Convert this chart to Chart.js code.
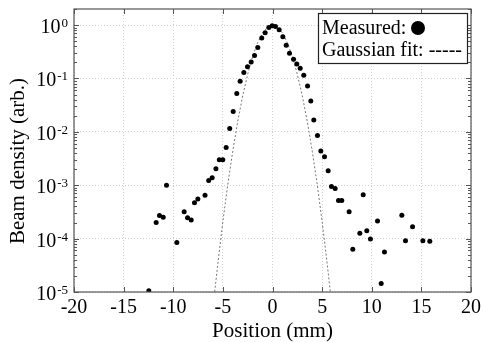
<!DOCTYPE html>
<html>
<head>
<meta charset="utf-8">
<script src="https://cdn.jsdelivr.net/npm/chart.js@4/dist/chart.umd.min.js"></script>
<style>
  html, body { margin: 0; padding: 0; background: #fff; }
  #wrap { width: 483px; height: 342px; }
</style>
</head>
<body>
<div id="wrap"><canvas id="beam" width="483" height="342"></canvas></div>
<script>
// measured beam profile (position in mm, density arb.)
const measuredX = [
  -12.46, -11.72, -11.39, -11.01, -10.68, -9.64, -8.90, -8.56, -8.19, -7.86,
  -7.52, -6.80, -6.43, -6.08, -5.70, -5.36, -5.01, -4.67, -4.31, -3.96,
  -3.60, -3.26, -2.89, -2.52, -2.15, -1.81, -1.48, -1.08, -0.74, -0.37,
  -0.03, 0.30, 0.67, 1.04, 1.38, 1.71, 2.12, 2.45, 2.79, 3.15,
  3.53, 3.86, 4.16, 4.53, 4.87, 5.24, 5.61, 5.94, 6.31, 6.65,
  6.98, 7.72, 8.09, 8.80, 9.14, 9.50, 9.87, 10.58, 10.95, 11.28,
  13.03, 13.40, 14.11, 15.15, 15.85
];
const measuredY = [
  1.06e-5, 2.0e-4, 2.7e-4, 2.5e-4, 1.0e-3, 8.5e-5, 3.2e-4, 2.45e-4, 2.24e-4, 4.7e-4,
  5.5e-4, 6.5e-4, 1.23e-3, 1.38e-3, 2.04e-3, 3.0e-3, 3.0e-3, 5.1e-3, 1.15e-2, 2.4e-2,
  5.2e-2, 8.9e-2, 0.129, 0.166, 0.204, 0.269, 0.38, 0.575, 0.716, 0.904,
  0.973, 0.944, 0.813, 0.603, 0.421, 0.295, 0.229, 0.186, 0.155, 0.115,
  0.0724, 0.038, 0.0166, 8.5e-3, 4.4e-3, 3.4e-3, 1.86e-3, 9.5e-4, 8.7e-4, 5.2e-4,
  5.2e-4, 3.2e-4, 6.3e-5, 1.26e-4, 6.6e-4, 1.41e-4, 9.8e-5, 2.14e-4, 1.45e-5, 5.6e-5,
  2.75e-4, 9.1e-5, 1.66e-4, 9.1e-5, 8.9e-5
];

// gaussian fit curve
const fitX = [-6, -5.5, -5, -4.5, -4, -3.5, -3, -2.5, -2, -1.5, -1, -0.5, 0,
              0.5, 1, 1.5, 2, 2.5, 3, 3.5, 4, 4.5, 5, 5.5, 6];
const fitY = [5.1e-6, 3.5e-5, 2.1e-4, 1.05e-3, 4.4e-3, 1.58e-2, 4.74e-2, 0.120, 0.258, 0.467, 0.713, 0.919, 1,
              0.919, 0.713, 0.467, 0.258, 0.120, 4.74e-2, 1.58e-2, 4.4e-3, 1.05e-3, 2.1e-4, 3.5e-5, 5.1e-6];

const xTicks = [-20, -15, -10, -5, 0, 5, 10, 15, 20];
const yDecades = [-5, -4, -3, -2, -1, 0];

const SERIF = '"Liberation Serif", "Times New Roman", serif';

const decor = {
  id: "decor",
  afterDraw(chart) {
    const { ctx, chartArea: a, scales: { x, y } } = chart;
    ctx.save();

    // plot frame
    ctx.strokeStyle = "#555";
    ctx.lineWidth = 1.2;
    ctx.strokeRect(a.left, a.top, a.right - a.left, a.bottom - a.top);

    // inward tick marks
    ctx.lineWidth = 1;
    ctx.beginPath();
    xTicks.forEach(v => {
      const px = Math.round(x.getPixelForValue(v)) + 0.5;
      ctx.moveTo(px, a.bottom); ctx.lineTo(px, a.bottom - 5);
      ctx.moveTo(px, a.top); ctx.lineTo(px, a.top + 5);
    });
    yDecades.forEach(d => {
      for (let m = 1; m <= 9; m++) {
        const v = m * Math.pow(10, d);
        if (v > y.max) break;
        const py = Math.round(y.getPixelForValue(v)) + 0.5;
        const len = m === 1 ? 5 : 3;
        ctx.moveTo(a.left, py); ctx.lineTo(a.left + len, py);
        ctx.moveTo(a.right, py); ctx.lineTo(a.right - len, py);
      }
    });
    ctx.stroke();

    // x tick labels
    ctx.fillStyle = "#000";
    ctx.font = "20px " + SERIF;
    ctx.textAlign = "center";
    ctx.textBaseline = "alphabetic";
    xTicks.forEach(v => {
      ctx.fillText(String(v), x.getPixelForValue(v), a.bottom + 21);
    });

    // y tick labels 10^n
    ctx.textAlign = "left";
    yDecades.forEach(d => {
      const py = y.getPixelForValue(Math.pow(10, d));
      const exp = String(d);
      ctx.font = "20px " + SERIF;
      const wBase = ctx.measureText("10").width;
      ctx.font = "13px " + SERIF;
      const wExp = ctx.measureText(exp).width;
      const right = a.left - 6;
      const x0 = right - wBase - wExp - 1;
      ctx.font = "20px " + SERIF;
      ctx.fillText("10", x0, py + 8);
      ctx.font = "13px " + SERIF;
      ctx.fillText(exp, x0 + wBase + 1, py + 2);
    });

    // axis titles
    ctx.font = "21px " + SERIF;
    ctx.textAlign = "center";
    ctx.fillText("Position (mm)", (a.left + a.right) / 2, 337);
    ctx.save();
    ctx.translate(24, 161);
    ctx.rotate(-Math.PI / 2);
    ctx.fillText("Beam density (arb.)", 0, 0);
    ctx.restore();

    // legend box
    const lx = 318, ly = 13, lw = 149, lh = 50;
    ctx.fillStyle = "#fff";
    ctx.fillRect(lx, ly, lw, lh);
    ctx.strokeStyle = "#222";
    ctx.lineWidth = 1.2;
    ctx.strokeRect(lx + 0.5, ly + 0.5, lw, lh);
    ctx.fillStyle = "#000";
    ctx.font = "20px " + SERIF;
    ctx.textAlign = "left";
    ctx.fillText("Measured:", 322, 34);
    ctx.beginPath();
    ctx.arc(418, 28, 7, 0, Math.PI * 2);
    ctx.fill();
    ctx.fillText("Gaussian fit: -----", 322, 56);

    ctx.restore();
  }
};

new Chart(document.getElementById("beam"), {
  type: "scatter",
  data: {
    datasets: [
      {
        label: "Gaussian fit",
        data: fitX.map((v, i) => ({ x: v, y: fitY[i] })),
        showLine: true,
        borderColor: "#777",
        borderWidth: 1,
        borderDash: [2, 2],
        pointRadius: 0,
        fill: false,
        order: 2
      },
      {
        label: "Measured",
        data: measuredX.map((v, i) => ({ x: v, y: measuredY[i] })),
        backgroundColor: "#000",
        borderColor: "#000",
        pointRadius: 2.5,
        pointBorderWidth: 0,
        order: 1
      }
    ]
  },
  options: {
    responsive: false,
    animation: false,
    devicePixelRatio: 1,
    layout: { padding: { left: 74, right: 12, top: 9, bottom: 50 } },
    plugins: { legend: { display: false }, tooltip: { enabled: false } },
    scales: {
      x: {
        type: "linear",
        min: -20, max: 20,
        ticks: { display: false, stepSize: 5 },
        grid: { color: "#d0d0d0", drawTicks: false, lineWidth: 1 },
        border: { display: false, dash: [1, 2] }
      },
      y: {
        type: "logarithmic",
        min: 1e-5, max: 2,
        afterBuildTicks: s => { s.ticks = yDecades.map(d => ({ value: Math.pow(10, d) })); },
        ticks: { display: false },
        grid: { color: "#d0d0d0", drawTicks: false, lineWidth: 1 },
        border: { display: false, dash: [1, 2] }
      }
    }
  },
  plugins: [decor]
});
</script>
</body>
</html>
